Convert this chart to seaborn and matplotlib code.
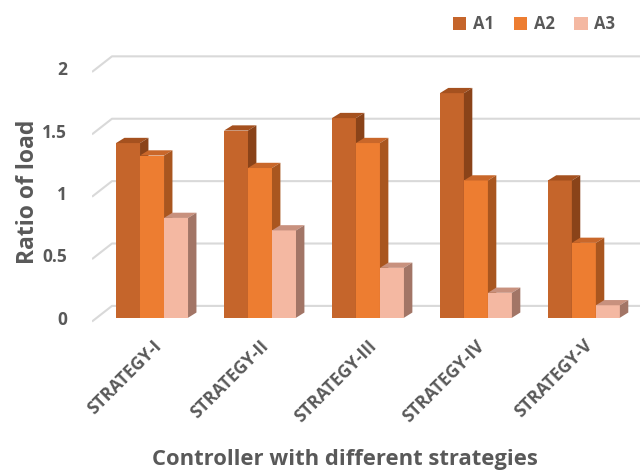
import numpy as np
import pandas as pd
import matplotlib.pyplot as plt
import seaborn as sns
from matplotlib.patches import Polygon, Patch

strategies = ["STRATEGY-I", "STRATEGY-II", "STRATEGY-III", "STRATEGY-IV", "STRATEGY-V"]
a1 = [1.4, 1.5, 1.6, 1.8, 1.1]
a2 = [1.3, 1.2, 1.4, 1.1, 0.6]
a3 = [0.8, 0.7, 0.4, 0.2, 0.1]
series = ["A1", "A2", "A3"]
yticks = [0, 0.5, 1, 1.5, 2]
ytick_labels = ["0", "0.5", "1", "1.5", "2"]

front = ["#C5652B", "#ED7D31", "#F4B8A2"]
side = ["#8A4319", "#A9561F", "#A27566"]
top = ["#A5511F", "#C9672A", "#C8917E"]

df = pd.DataFrame({
    "strategy": strategies * 3,
    "value": a1 + a2 + a3,
    "series": ["A1"] * 5 + ["A2"] * 5 + ["A3"] * 5,
})

sns.set_theme(style="white")
plt.rcParams["font.family"] = ["Open Sans", "DejaVu Sans"]
grey = "#595959"

fig = plt.figure(figsize=(6.4, 4.76), dpi=100)
ax = fig.add_axes([92 / 640, 1 - 324 / 476, 1 - 92 / 640, (324 - 37) / 476])

sns.barplot(data=df, x="strategy", y="value", hue="series", palette=front,
            width=0.667, saturation=1, gap=0, legend=False, ax=ax)

ax.set_xlim(-0.556, 4.52)
ax.set_ylim(-0.05, 2.25)

# fake 3D: depth of each bar
dx, dy = 0.078, 0.042
for k, cont in enumerate(ax.containers):
    for p in cont.patches:
        x, w, h = p.get_x(), p.get_width(), p.get_height()
        p.set_zorder(3 + k)
        p.set_edgecolor("none")
        ax.add_patch(Polygon([(x, h), (x + w, h), (x + w + dx, h + dy), (x + dx, h + dy)],
                             closed=True, fc=top[k], ec="none", zorder=3 + k))
        ax.add_patch(Polygon([(x + w, 0), (x + w + dx, dy), (x + w + dx, h + dy), (x + w, h)],
                             closed=True, fc=side[k], ec="none", zorder=3 + k))

# back wall grid
x0 = ax.get_xlim()[0]
bx, by = 0.185, 0.125
for v in yticks:
    ax.plot([x0, x0 + bx, 5], [v - 0.03, v + by - 0.03, v + by - 0.03],
            color="#D9D9D9", lw=1.5, zorder=1, solid_capstyle="butt")

sns.despine(ax=ax, left=True, bottom=True)
ax.set_yticks(yticks)
ax.set_yticklabels(ytick_labels, fontsize=12.5, fontweight="bold", color=grey)
ax.tick_params(axis="y", length=0, pad=18)
ax.set_xticks(range(len(strategies)))
ax.set_xticklabels(strategies, rotation=45, ha="right", rotation_mode="anchor",
                   fontsize=12.5, fontweight="bold", color=grey)
ax.tick_params(axis="x", length=0, pad=9)
ax.set_xlabel("")
ax.set_ylabel("")

fig.text(345 / 640, 1 - 460 / 476, "Controller with different strategies",
         ha="center", va="center", fontsize=15.8, fontweight="bold", color=grey)
fig.text(28 / 640, 1 - 192 / 476, "Ratio of load", rotation=90,
         ha="center", va="center", fontsize=16.5, fontweight="bold", color=grey)

handles = [Patch(facecolor=c, edgecolor="none") for c in front]
leg = fig.legend(handles, series, loc="upper right", bbox_to_anchor=(0.985, 1.0),
                 ncol=3, frameon=False, handlelength=0.8, handleheight=0.8,
                 handletextpad=0.4, columnspacing=1.2,
                 prop={"family": ["Open Sans", "DejaVu Sans"], "weight": "bold", "size": 12})
for t in leg.get_texts():
    t.set_color(grey)

fig.savefig("out.png", dpi=100)
